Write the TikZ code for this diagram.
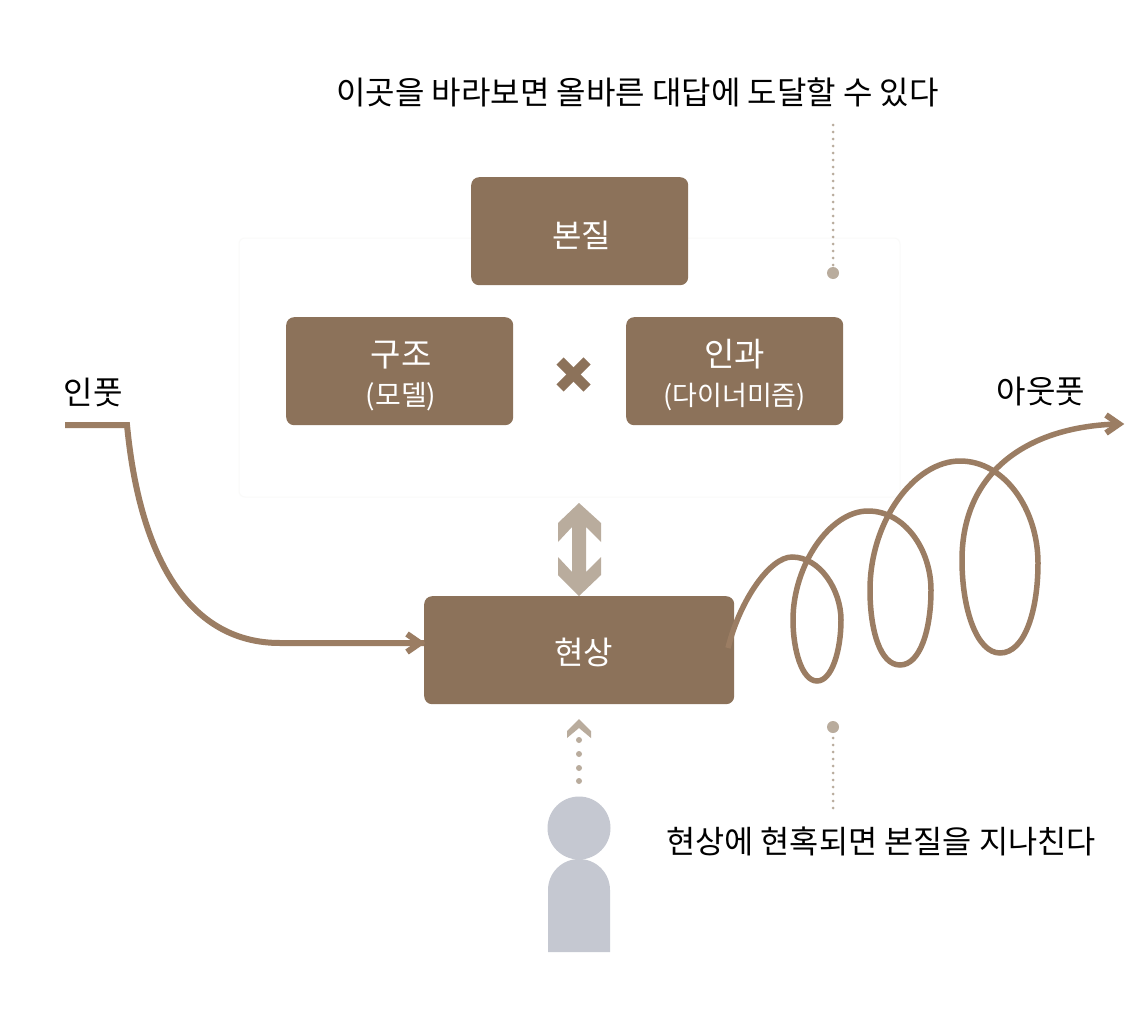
\documentclass[tikz,border=0pt]{standalone}
\usepackage{fontspec}
\setmainfont{Noto Sans CJK KR}
\newcommand{\fs}[1]{\fontsize{#1}{#1}\selectfont}
\definecolor{boxc}{HTML}{8C725A}
\definecolor{curvec}{HTML}{9B7D63}
\definecolor{lightc}{HTML}{B9AC9D}
\definecolor{personc}{HTML}{C5C8D1}
\definecolor{faintc}{HTML}{FAFAF9}
\tikzset{
  x=1pt,y=-1pt,
  boxn/.style={fill=boxc,rounded corners=8pt,inner sep=0pt,text=white,align=center,anchor=north west},
  lab/.style={inner sep=0pt,text=black,anchor=center},
  curveline/.style={draw=curvec,line width=5.5pt},
  inputline/.style={draw=curvec,line width=6pt},
  tipline/.style={draw=curvec,line width=6pt,miter limit=10},
  dotline/.style={draw=lightc,line width=3pt,line cap=round,dash pattern=on 0pt off 7pt},
  lightfill/.style={fill=lightc,draw=none},
}
\begin{document}
\begin{tikzpicture}
\useasboundingbox (0,0) rectangle (1125,1036);
\fill[white] (0,0) rectangle (1125,1036);
% faint panel
\draw[faintc,line width=1pt,rounded corners=6pt] (239,238) rectangle (900,497);
% boxes
\node[boxn,minimum width=217pt,minimum height=108pt] (essence) at (471,177) {\rule{0pt}{34pt}\hspace*{4pt}\fs{32}본질};
\node[boxn,minimum width=227pt,minimum height=108pt] (structure) at (286,317) {\rule{0pt}{35pt}\hspace*{3pt}\fs{33}구조\\[13pt]\hspace*{3pt}\fs{28}(모델)};
\node[boxn,minimum width=217pt,minimum height=108pt] (cause) at (626,317) {\rule{0pt}{35pt}\fs{33}인과\\[13pt]\fs{27}(다이너미즘)};
\node[boxn,minimum width=310pt,minimum height=108pt] (pheno) at (424,596) {\rule{0pt}{32pt}\hspace*{9pt}\fs{32}현상};
% labels
\node[lab] (toplab) at (637.5,92) {\fs{32}이곳을 바라보면 올바른 대답에 도달할 수 있다};
\node[lab] (botlab) at (881,841) {\fs{31.7}현상에 현혹되면 본질을 지나친다};
\node[lab] (inlab) at (93,392) {\fs{32}인풋};
\node[lab] (outlab) at (1041,392) {\fs{32}아웃풋};
% cross
\draw[boxc,line width=10pt] (560,361) -- (587,388);
\draw[boxc,line width=10pt] (587,361) -- (560,388);
% double arrow
\fill[lightfill] (579,503) -- (601,523) -- (601,542) -- (586,527) -- (586,572) -- (601,557) -- (601,575) -- (579,596)
  -- (558,575) -- (558,557) -- (572,572) -- (572,527) -- (558,542) -- (558,523) -- cycle;
% gaze arrow
\fill[lightfill] (579,719) -- (591,731) -- (591,738) -- (579,728) -- (567,738) -- (567,731) -- cycle;
\foreach \yy in {740,754,768,781} \fill[lightfill] (579,\yy) circle (3pt);
% leader lines
\coordinate (topdot) at (833,273);
\coordinate (topend) at (833,125);
\coordinate (botdot) at (833,727);
\coordinate (botend) at (833,808);
\draw[dotline] (topend) -- (topdot);
\fill[lightfill] (topdot) circle (6pt);
\draw[dotline] (botend) -- (botdot);
\fill[lightfill] (botdot) circle (6pt);
% input curve
\coordinate (instart) at (65,425);
\coordinate (inbend) at (127,425);
\coordinate (inflat) at (280,643);
\draw[inputline] (instart) -- (inbend) .. controls (140,560) and (190,643) .. (inflat) -- (pheno.west |- inflat);
\draw[tipline] (407,634) -- (420,643) -- (407,652);
% spiral
\coordinate (spend) at (1119,424);
\draw[curveline] (728,648) .. controls (740,600) and (770,557) .. (792,557)
  .. controls (820,557) and (841,590) .. (841,620)
  .. controls (841,650) and (832,681) .. (817,681)
  .. controls (802,681) and (793,650) .. (793,620)
  .. controls (793,565) and (830,511) .. (868,511)
  .. controls (905,511) and (931,550) .. (931,590)
  .. controls (931,630) and (920,665) .. (900,665)
  .. controls (880,665) and (870,630) .. (870,590)
  .. controls (870,520) and (915,461) .. (960,461)
  .. controls (1005,461) and (1038,510) .. (1038,563)
  .. controls (1038,610) and (1025,653) .. (1000,653)
  .. controls (977,653) and (962,610) .. (962,560)
  .. controls (962,470) and (1030,426) .. (spend);
\draw[tipline] (1106,415) -- (1119,424) -- (1106,433);
% person
\fill[personc] (579,828) circle (31.5pt);
\fill[personc] (548,952) -- (548,890) arc[start angle=180,end angle=0,radius=31pt] -- (610,952) -- cycle;
\end{tikzpicture}
\end{document}
